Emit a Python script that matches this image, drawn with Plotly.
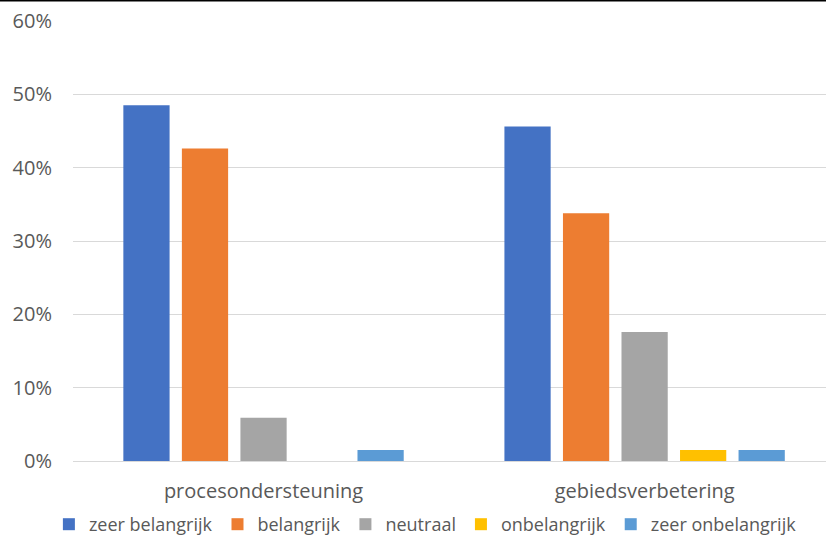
import plotly.graph_objects as go

categories = ["procesondersteuning", "gebiedsverbetering"]
series_names = ["zeer belangrijk", "belangrijk", "neutraal", "onbelangrijk", "zeer onbelangrijk"]
zeer_belangrijk = [48.5, 45.6]
belangrijk = [42.6, 33.8]
neutraal = [5.9, 17.6]
onbelangrijk = [0.0, 1.5]
zeer_onbelangrijk = [1.5, 1.5]
colors = ["#4472C4", "#ED7D31", "#A5A5A5", "#FFC000", "#5B9BD5"]
y_ticks = [0, 10, 20, 30, 40, 50, 60]
y_tick_labels = ["0%", "10%", "20%", "30%", "40%", "50%", "60%"]

series_values = [zeer_belangrijk, belangrijk, neutraal, onbelangrijk, zeer_onbelangrijk]

font_family = "Open Sans, sans-serif"
text_color = "#595959"

fig = go.Figure()
for name, vals, col in zip(series_names, series_values, colors):
    fig.add_trace(go.Bar(
        x=categories, y=vals, name=name,
        marker=dict(color=col, line=dict(width=0)),
    ))

fig.update_layout(
    width=826, height=543,
    margin=dict(l=73, r=0, t=21, b=82),
    paper_bgcolor="white", plot_bgcolor="white",
    barmode="group", bargap=0.232, bargroupgap=0.21,
    font=dict(family=font_family, size=20, color=text_color),
    showlegend=True,
    legend=dict(
        orientation="h", x=0.515, xref="container", xanchor="center",
        y=0.0, yref="container", yanchor="bottom",
        font=dict(size=18, color=text_color),
        itemwidth=30, tracegroupgap=0,
    ),
    xaxis=dict(
        range=[-0.5, 1.476], showgrid=False, zeroline=False, showline=False,
        ticks="", ticklabelstandoff=16, automargin=False,
        tickfont=dict(size=20, color=text_color),
    ),
    yaxis=dict(
        range=[0, 60], tickvals=y_ticks, ticktext=y_tick_labels,
        showgrid=True, gridcolor="#D9D9D9", gridwidth=1.3,
        zeroline=True, zerolinecolor="#D9D9D9", zerolinewidth=1.3,
        showline=False, ticks="", ticklabelstandoff=20,
        tickfont=dict(size=20, color=text_color),
    ),
)

# thin dark rule along the top edge of the figure
fig.add_shape(type="line", xref="paper", yref="paper",
              x0=-73 / 753, x1=1.0, y0=1 + 20.5 / 440, y1=1 + 20.5 / 440,
              line=dict(color="black", width=2))

fig.write_html("out.html")
